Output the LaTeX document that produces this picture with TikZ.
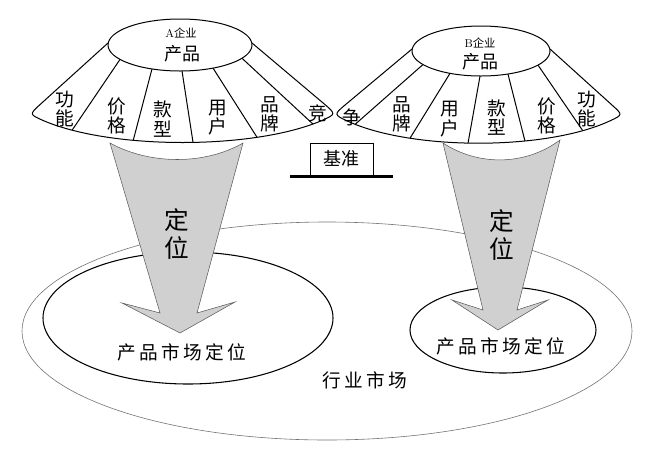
\documentclass[tikz,border=0pt]{standalone}
\usepackage{fontspec}
\newfontfamily\cjk{Noto Sans CJK SC}
\newfontfamily\cjksp{Noto Sans CJK SC}[LetterSpace=18]
\usetikzlibrary{calc}
\definecolor{arrowgray}{RGB}{208,208,208}
\definecolor{edgegray}{RGB}{90,90,90}
\begin{document}
\begin{tikzpicture}[x=0.75pt,y=-0.75pt,
  cone/.style={line width=0.75pt, line join=round},
  lab/.style={font={\cjk\fontsize{14}{14.5}\selectfont}, align=center, inner sep=0pt},
  tsmall/.style={font={\cjk\fontsize{8.5}{9}\selectfont}, inner sep=0pt},
  tbig/.style={font={\cjk\fontsize{13.5}{14}\selectfont}, inner sep=0pt},
  dw/.style={font={\cjk\fontsize{18.5}{21}\selectfont}, align=center, inner sep=0pt},
  mkt/.style={font={\cjksp\fontsize{14}{16}\selectfont}, inner sep=0pt},
  arrowst/.style={fill=arrowgray, draw=edgegray, line width=0.4pt, line join=miter}
]
\useasboundingbox (0,0) rectangle (657,458);

% market ellipses
\draw[gray!90!black, line width=0.45pt] (327,331) ellipse [x radius=305, y radius=109];
\draw[line width=0.8pt] (188,318) ellipse [x radius=145, y radius=66];
\draw[line width=0.8pt] (503,330) ellipse [x radius=93, y radius=43];
\node[mkt] (lpos) at (182,352) {产品市场定位};
\node[mkt] (rpos) at (501,346) {产品市场定位};
\node[mkt] (hy) at (365,380) {行业市场};

% arrows
\draw[arrowst] (110,143) .. controls (150,165) and (205,165) .. (243,143) -- (197,313) -- (235,302) -- (180,333) -- (122,303) -- (160,313) -- cycle;
\draw[arrowst] (443,143) .. controls (478,166) and (525,166) .. (560,140) -- (517,310) -- (548,300) -- (498,330) -- (452,300) -- (483,310) -- cycle;
\node[dw] (ldw) at (177,234) {定\\位};
\node[dw] (rdw) at (502,235) {定\\位};

% left cone
\fill[white] (108,43) -- (40,104.6) .. controls (29.7,114.1) and (29.2,114.3) .. (42,120) .. controls (110,150) and (255,150) .. (323,120) .. controls (335.8,114.3) and (335.6,113.7) .. (325,104.6) -- (252,43) -- cycle;
\draw[cone] (108,43) -- (40,104.6) .. controls (29.7,114.1) and (29.2,114.3) .. (42,120)
  .. controls (110,150) and (255,150) .. coordinate[pos=0.13] (lb1) coordinate[pos=0.344] (lb2) coordinate[pos=0.533] (lb3) coordinate[pos=0.74] (lb4) coordinate[pos=0.953] (lb5) (323,120)
  .. controls (335.8,114.3) and (335.6,113.7) .. (325,104.6) -- (252,43);
\coordinate (lc) at (180,45);
\draw[cone] ($(lc)+(146.4:72 and 26)$) -- (lb1);
\draw[cone] ($(lc)+(112.9:72 and 26)$) -- (lb2);
\draw[cone] ($(lc)+(88.4:72 and 26)$) -- (lb3);
\draw[cone] ($(lc)+(62.7:72 and 26)$) -- (lb4);
\draw[cone] ($(lc)+(30.6:72 and 26)$) -- (lb5);
\draw[cone, fill=white] (lc) ellipse [x radius=72, y radius=26];
\node[tsmall] (lt) at (181,33) {{\rmfamily A}企业};
\node[tbig] (lp) at (182,54) {产品};
\node[lab] (la1) at (65,109) {功\\能};
\node[lab] (la2) at (117,116) {价\\格};
\node[lab] (la3) at (163,119) {款\\型};
\node[lab] (la4) at (218,117.5) {用\\户};
\node[lab] (la5) at (270,114) {品\\牌};
\node[lab] (la6) at (318,113) {竞};

% right cone
\fill[white] (412,49) -- (344.7,105.3) .. controls (334,114.3) and (334,114.8) .. (346.7,120.7) .. controls (410.7,150.7) and (546.3,150.7) .. (610.3,120.7) .. controls (623,114.8) and (622.7,114.7) .. (612.3,105.3) -- (550,49) -- cycle;
\draw[cone] (412,49) -- (344.7,105.3) .. controls (334,114.3) and (334,114.8) .. (346.7,120.7)
  .. controls (410.7,150.7) and (546.3,150.7) .. coordinate[pos=0.042] (rb1) coordinate[pos=0.265] (rb2) coordinate[pos=0.465] (rb3) coordinate[pos=0.657] (rb4) coordinate[pos=0.873] (rb5) (610.3,120.7)
  .. controls (623,114.8) and (622.7,114.7) .. (612.3,105.3) -- (550,49);
\coordinate (rc) at (481,51);
\draw[cone] ($(rc)+(147.2:69 and 25)$) -- (rb1);
\draw[cone] ($(rc)+(116.7:69 and 25)$) -- (rb2);
\draw[cone] ($(rc)+(90.8:69 and 25)$) -- (rb3);
\draw[cone] ($(rc)+(67:69 and 25)$) -- (rb4);
\draw[cone] ($(rc)+(34.3:69 and 25)$) -- (rb5);
\draw[cone, fill=white] (rc) ellipse [x radius=69, y radius=25];
\node[tsmall] (rt) at (480,43) {{\rmfamily B}企业};
\node[tbig] (rp) at (480,62) {产品};
\node[lab] (rb1l) at (352,117) {争};
\node[lab] (rb2l) at (402,114) {品\\牌};
\node[lab] (rb3l) at (450,119) {用\\户};
\node[lab] (rb4l) at (497,117.5) {款\\型};
\node[lab] (rb5l) at (547,116) {价\\格};
\node[lab] (rb6l) at (587,109) {功\\能};

% benchmark
\node[draw, line width=0.75pt, minimum width=47.25pt, minimum height=24pt, inner sep=0pt, font={\cjk\fontsize{13.5}{14}\selectfont}] (jz) at (341.5,159) {基准};
\coordinate (g1) at (290,176.5);
\coordinate (g2) at (393,176.5);
\draw[line width=1.8pt] (g1) -- (g2);
\end{tikzpicture}
\end{document}
